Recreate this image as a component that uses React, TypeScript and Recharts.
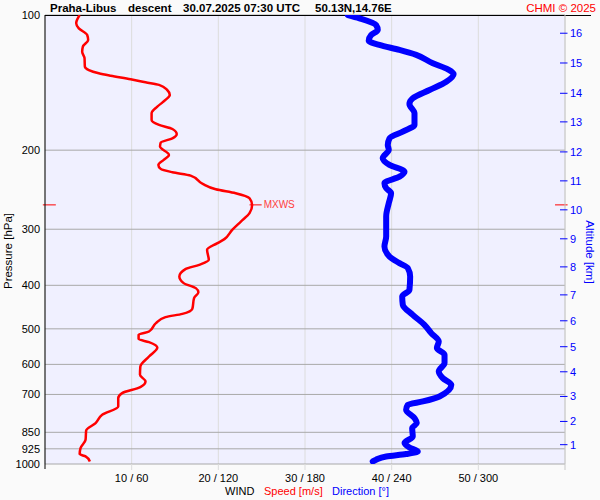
import React from 'react';
import {
  ScatterChart,
  Scatter,
  XAxis,
  YAxis,
  CartesianGrid,
  ReferenceLine,
  Customized,
} from 'recharts';

// pressure axis (hPa), log scale
const pressureTicks = [100, 200, 300, 400, 500, 600, 700, 850, 925, 1000];

// altitude ticks (km) and the pressure where each one sits
const altKm = [1, 2, 3, 4, 5, 6, 7, 8, 9, 10, 11, 12, 13, 14, 15, 16];
const altP = [905.7, 803.9, 707.2, 623.2, 548.0, 479.8, 420.1, 363.9, 315.1, 271.6, 234.1, 201.8, 173.0, 149.4, 127.9, 109.8];

// bottom axis: speed m/s (direction = speed * 6)
const speedTicks = [0, 10, 20, 30, 40, 50, 60];

// wind speed profile
const spdP = [
  100, 104.3, 107.1, 110.8, 113.7, 117.6, 120.7, 124.8, 130.3, 132.6, 134.8, 136.5, 139.0, 141.2, 143.1,
  146.9, 150.7, 154.6, 160.0, 165.5, 171.3, 175.7, 179.4, 184.0, 188.2, 192.4, 196.4, 204.9, 210.2, 215.7,
  220.2, 224.0, 227.9, 237.8, 244.4, 249.4, 255.9, 264.8, 276.3, 288.4, 301.0, 315.6, 322.2, 333.4, 351.0,
  360.1, 368.1, 382.3, 395.5, 405.8, 414.2, 427.1, 451.2, 463.0, 470.9, 485.6, 506.9, 515.5, 527.0, 535.2,
  550.2, 576.2, 606.6, 632.9, 655.0, 674.1, 695.1, 713.1, 744.5, 776.9, 810.7, 842.1, 883.1, 921.5, 950.3,
  962.0, 987.0,
];
const spdV = [
  4.0, 3.6, 3.9, 4.87, 4.98, 4.37, 4.29, 4.56, 4.6, 5.06, 6.2, 7.57, 9.88, 11.6, 13.16,
  14.1, 14.4, 13.9, 12.96, 12.3, 12.3, 13.16, 14.7, 15.2, 14.7, 13.35, 13.27, 14.3, 13.7, 13.08,
  13.35, 14.7, 16.8, 18.2, 19.7, 22.0, 23.6, 23.9, 23.6, 22.6, 21.6, 20.7, 19.9, 18.7, 18.9,
  17.8, 16.2, 15.5, 16.0, 17.4, 17.7, 17.2, 17.0, 15.85, 13.9, 12.8, 12.0, 10.8, 10.8, 12.0,
  12.96, 12.0, 11.0, 10.96, 11.6, 11.0, 8.9, 8.45, 8.45, 6.6, 5.84, 4.75, 4.68, 4.1, 4.0,
  4.68, 5.18,
];

// wind direction profile
const dirP = [
  100, 101.7, 105.3, 108.0, 110.8, 114.1, 116.6, 119.6, 122.7, 128.1, 132.1, 135.3, 140.8, 146.9, 153.3,
  157.8, 165.5, 175.7, 181.8, 188.2, 194.7, 199.7, 208.4, 215.7, 223.3, 229.1, 236.9, 243.0, 249.4, 262.5,
  281.1, 311.5, 327.9, 345.1, 357.0, 366.3, 382.3, 409.4, 423.6, 441.9, 465.4, 489.8, 511.0, 533.5, 551.8,
  571.1, 596.0, 622.2, 643.7, 666.2, 707.2, 725.6, 738.0, 757.2, 790.2, 810.7, 831.8, 868.2, 898.1, 918.6,
  937.6, 950.3, 962.0, 978.1, 987.0,
];
const dirV = [
  209.6, 217.7, 229.2, 230.4, 225.8, 224.1, 231.5, 245.4, 257, 268.5, 278.9, 282.9, 277.8, 266.2, 254.6,
  252.3, 255.8, 255.8, 247.7, 238.5, 237.3, 238, 233.8, 238.5, 248.9, 245.4, 235, 236.2, 239.6, 238,
  236.2, 236.2, 235, 238.5, 245.4, 251.2, 252.8, 252.3, 247.3, 247.7, 254.6, 262.7, 267.4, 272.6, 271.3,
  276.6, 276.6, 272.6, 275.4, 281.3, 273.1, 261.6, 251.2, 250, 255.8, 257.4, 254.2, 254.6, 248.9, 252.3,
  258.1, 250, 236.2, 229.2, 226.9,
];

const speedData = spdP.map((p, i) => ({ p, s: spdV[i] }));
const dirData = dirP.map((p, i) => ({ p, d: dirV[i] }));

const maxIdx = spdV.indexOf(Math.max(...spdV));
const mxSpeed = spdV[maxIdx];
const mxP = spdP[maxIdx];

const RED = '#ff0000';
const BLUE = '#0000ff';
const PLOT_BOTTOM = 464; // 500 - x axis height

const SpeedTick = (props: any) => {
  const { x, payload } = props;
  const y = PLOT_BOTTOM;
  const v = payload.value;
  if (v === 0) return <line x1={x} x2={x} y1={y} y2={y + 5} stroke="#000" />;
  if (v === 60) return <line x1={x} x2={x} y1={y} y2={y + 6} stroke="#c8c8c8" />;
  return (
    <g>
      <line x1={x} x2={x} y1={y} y2={y + 6} stroke="#dcdcdc" />
      <text x={x} y={y + 17.5} textAnchor="middle" fontSize={11} fill="#000">
        {`${v} / ${v * 6}`}
      </text>
    </g>
  );
};

const AltTick = (props: any) => {
  const { x, y, payload } = props;
  const km = altKm[altP.indexOf(payload.value)];
  return (
    <g>
      <line x1={x - 5} x2={x + 2.5} y1={y} y2={y} stroke={BLUE} />
      <text x={x + 5} y={y + 4} fontSize={11} fill={BLUE}>{km}</text>
    </g>
  );
};

// title, footer and axis names
const Decor = () => (
  <g>
    <line x1={45} x2={591} y1={15.5} y2={15.5} stroke="#000" />
    <g fontSize={11.5} fontWeight="bold" fill="#000">
      <text x={50} y={12}>Praha-Libus</text>
      <text x={128} y={12}>descent</text>
      <text x={183} y={12}>30.07.2025 07:30 UTC</text>
      <text x={315} y={12}>50.13N,14.76E</text>
    </g>
    <text x={596} y={12} textAnchor="end" fontSize={11.5} fill={RED}>CHMI © 2025</text>
    <g fontSize={11}>
      <text x={225} y={495} fill="#000">WIND</text>
      <text x={264} y={495} fill={RED}>Speed [m/s]</text>
      <text x={332} y={495} fill={BLUE}>Direction [°]</text>
    </g>
    <text x={12} y={251} fontSize={11.5} fill="#000" textAnchor="middle" transform="rotate(-90 12 251)">
      Pressure [hPa]
    </text>
    <text x={586} y={252} fontSize={11.5} fill={BLUE} textAnchor="middle" transform="rotate(90 586 252)">
      Altitude [km]
    </text>
  </g>
);

export default function App() {
  return (
    <div
      style={{
        position: 'absolute',
        left: 0,
        top: 0,
        width: 600,
        height: 500,
        background: '#fafafa',
        fontFamily: '"Liberation Sans", Arial, sans-serif',
      }}
    >
      <ScatterChart width={600} height={500} margin={{ top: 15, right: 0, bottom: 0, left: 0 }}>
        <CartesianGrid
          xAxisId="spd"
          yAxisId="p"
          horizontal={false}
          vertical={true}
          stroke="#dcdcdc"
          fill="#f0f0ff"
        />
        <CartesianGrid xAxisId="spd" yAxisId="p" horizontal={true} vertical={false} stroke="#a8a8a8" />
        <XAxis
          xAxisId="spd"
          type="number"
          dataKey="s"
          domain={[0, 60]}
          ticks={speedTicks}
          interval={0}
          height={36}
          axisLine={false}
          tickLine={false}
          tickSize={0}
          tickMargin={0}
          tick={<SpeedTick />}
          allowDataOverflow
        />
        <XAxis xAxisId="dir" type="number" dataKey="d" domain={[0, 360]} hide allowDataOverflow />
        <YAxis
          yAxisId="p"
          type="number"
          dataKey="p"
          scale="log"
          domain={[100, 1000]}
          reversed
          ticks={pressureTicks}
          interval={0}
          width={45}
          tickSize={0}
          tickMargin={5}
          tickLine={false}
          axisLine={{ stroke: '#000' }}
          tick={{ fill: '#000', fontSize: 11 }}
          allowDataOverflow
        />
        <YAxis
          yAxisId="alt"
          orientation="right"
          type="number"
          scale="log"
          domain={[100, 1000]}
          reversed
          ticks={altP}
          interval={0}
          width={35}
          tickSize={0}
          tickMargin={0}
          tickLine={false}
          axisLine={{ stroke: '#c8c8c8' }}
          tick={<AltTick />}
          allowDataOverflow
        />
        <Scatter
          data={speedData}
          xAxisId="spd"
          yAxisId="p"
          fill={RED}
          line={{ stroke: RED, strokeWidth: 2.5, strokeLinejoin: 'round' }}
          lineJointType="monotoneY"
          shape={() => <g />}
          isAnimationActive={false}
        />
        <Scatter
          data={dirData}
          xAxisId="dir"
          yAxisId="p"
          fill={BLUE}
          line={{ stroke: BLUE, strokeWidth: 6, strokeLinejoin: 'round', strokeLinecap: 'round' }}
          lineJointType="monotoneY"
          shape={() => <g />}
          isAnimationActive={false}
        />
        <ReferenceLine
          xAxisId="spd"
          yAxisId="p"
          segment={[{ x: mxSpeed - 0.3, y: mxP }, { x: mxSpeed + 1.1, y: mxP }]}
          stroke={RED}
          ifOverflow="visible"
          label={{ value: 'MXWS', position: 'right', fill: '#ff4040', fontSize: 10, offset: 2 }}
        />
        <ReferenceLine
          xAxisId="spd"
          yAxisId="p"
          segment={[{ x: -0.25, y: mxP }, { x: 1.25, y: mxP }]}
          stroke={RED}
          ifOverflow="visible"
        />
        <ReferenceLine
          xAxisId="spd"
          yAxisId="p"
          segment={[{ x: 58.85, y: mxP }, { x: 60.3, y: mxP }]}
          stroke={RED}
          ifOverflow="visible"
        />
        <Customized component={Decor} />
      </ScatterChart>
    </div>
  );
}
